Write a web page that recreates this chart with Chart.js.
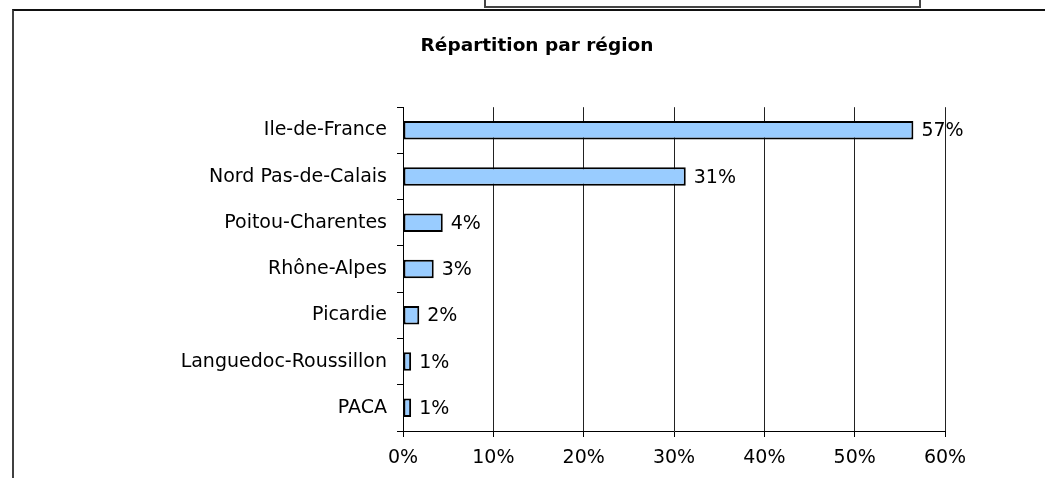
<!DOCTYPE html>
<html>
<head>
<meta charset="utf-8">
<script src="https://cdn.jsdelivr.net/npm/chart.js@4.4.0/dist/chart.umd.min.js"></script>
<style>
    body { margin: 0; background: #fff; overflow: hidden; }
    #wrap { position: relative; width: 1045px; height: 478px; }
    /* outer frame of the sheet, cut by the window on the right and bottom */
    #frame { position: absolute; left: 12px; top: 9px; width: 1100px; height: 600px;
             border-left: 2px solid #404040; border-top: 2px solid #111; }
    /* box poking in from above */
    #topbox { position: absolute; left: 484px; top: -10px; width: 433px; height: 14px;
              border: 2px solid #444; }
    canvas { position: absolute; left: 0; top: 0; }
</style>
</head>
<body>
<div id="wrap">
    <div id="frame"></div>
    <div id="topbox"></div>
    <canvas id="myChart" width="1045" height="478"></canvas>
</div>
<script>
// Chart data
const regions = ['Ile-de-France', 'Nord Pas-de-Calais', 'Poitou-Charentes', 'Rhône-Alpes',
                 'Picardie', 'Languedoc-Roussillon', 'PACA'];
const shares = [56.5, 31.3, 4.4, 3.4, 1.8, 0.9, 0.9];
const xTicks = [0, 10, 20, 30, 40, 50, 60];

const FONT = "'DejaVu Sans', Verdana, sans-serif";

// Plugin to write the percentage next to each bar
const valueLabels = {
    id: 'valueLabels',
    afterDatasetsDraw(chart) {
        const ctx = chart.ctx;
        const meta = chart.getDatasetMeta(0);
        ctx.save();
        ctx.font = '19px ' + FONT;
        ctx.fillStyle = '#000';
        ctx.textAlign = 'left';
        ctx.textBaseline = 'middle';
        meta.data.forEach((bar, i) => {
            ctx.fillText(Math.round(shares[i]) + '%', bar.x + 8, bar.y + 1);
        });
        ctx.restore();
    }
};

const renderChart = () => {
    var ctx = document.getElementById('myChart').getContext('2d');
    var myChart = new Chart(ctx, {
        type: 'bar',
        data: {
            labels: regions,
            datasets: [{
                data: shares,
                backgroundColor: '#99CCFF',
                borderColor: '#000',
                borderWidth: 2,
                borderSkipped: false,
                barPercentage: 0.4,
                categoryPercentage: 1.0
            }]
        },
        options: {
            indexAxis: 'y',
            responsive: false,
            animation: false,
            layout: { padding: { left: 129, right: 100, top: 0, bottom: 0 } },
            plugins: {
                legend: { display: false },
                tooltip: { enabled: false },
                title: {
                    display: true,
                    text: 'Répartition par région',
                    color: '#000',
                    font: { family: FONT, size: 18.5, weight: 'bold' },
                    padding: { top: 35, bottom: 50 }
                }
            },
            scales: {
                x: {
                    min: 0,
                    max: 60,
                    afterBuildTicks: scale => { scale.ticks = xTicks.map(v => ({ value: v })); },
                    afterFit: scale => { scale.height = 47; },
                    border: { display: true, color: '#000', width: 1 },
                    grid: { color: '#222', lineWidth: 1, drawTicks: true, tickLength: 6, tickColor: '#000' },
                    ticks: {
                        color: '#000',
                        font: { family: FONT, size: 19 },
                        padding: 10,
                        maxRotation: 0,
                        callback: v => v + '%'
                    }
                },
                y: {
                    afterFit: scale => { scale.width = 274; },
                    border: { display: true, color: '#000', width: 1 },
                    grid: { offset: true, drawOnChartArea: false, drawTicks: true, tickLength: 6, color: '#000' },
                    ticks: {
                        color: '#000',
                        font: { family: FONT, size: 19 },
                        padding: 10
                    }
                }
            }
        },
        plugins: [valueLabels]
    });
}

document.addEventListener('DOMContentLoaded', function() {
    renderChart();
});
</script>
</body>
</html>
